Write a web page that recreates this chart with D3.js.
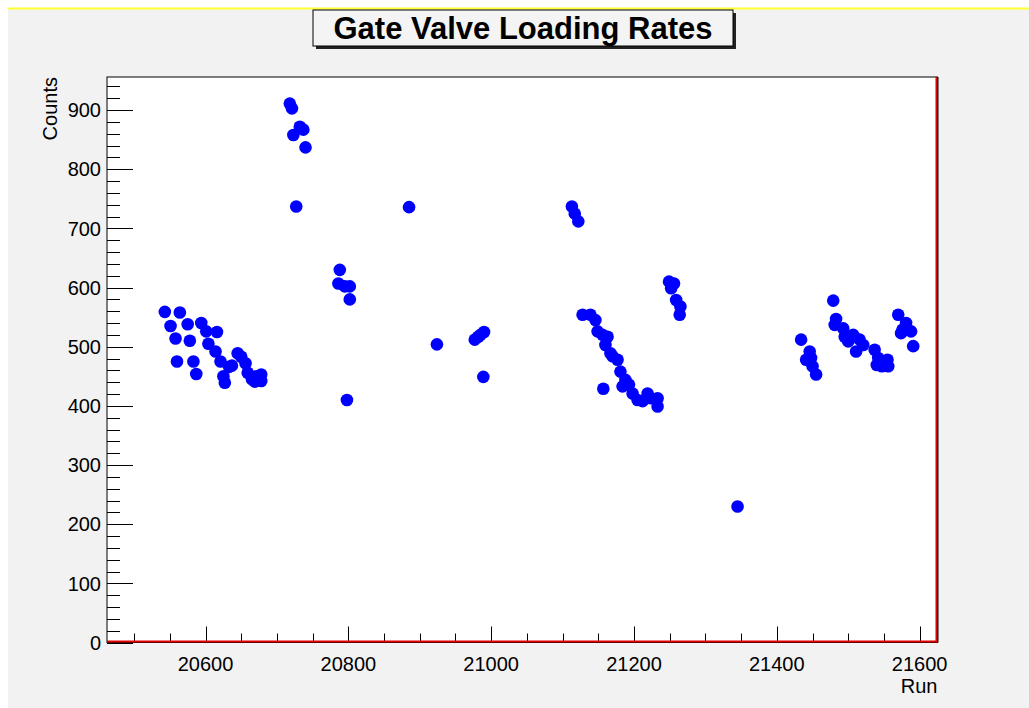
<!DOCTYPE html>
<html>
<head>
<meta charset="utf-8">
<script src="https://cdn.jsdelivr.net/npm/d3@7/dist/d3.min.js"></script>
<style>
  html, body { margin: 0; padding: 0; background: #ffffff; }
  svg { display: block; }
  text { font-family: "Liberation Sans", Arial, Helvetica, sans-serif; }
</style>
</head>
<body>
<svg id="chart" width="1029" height="708"></svg>
<script>
// Run numbers and the counts loaded at each run
const runs = [
  20543, 20564, 20551, 20575, 20594, 20601, 20616, 20558, 20578, 20604,
  20614, 20645, 20650, 20560, 20583, 20621, 20633, 20637, 20656, 20587,
  20625, 20627, 20659, 20671, 20678, 20669, 20678, 20665,
  20718, 20721, 20732, 20737, 20723, 20740, 20727, 20788, 20786, 20795,
  20802, 20802, 20798, 20885, 20924, 20977, 20982, 20985, 20990, 20989,
  21113, 21117, 21122, 21249, 21256, 21252, 21259, 21265, 21264, 21128,
  21139, 21146, 21149, 21156, 21163, 21160, 21167, 21170, 21177, 21181,
  21188, 21184, 21193, 21198, 21205, 21212, 21219, 21224, 21233, 21233,
  21157, 21345,
  21434, 21479, 21483, 21481, 21493, 21495, 21507, 21500, 21516, 21521,
  21511, 21537, 21542, 21540, 21555, 21556, 21547, 21446, 21441, 21448,
  21450, 21455, 21570, 21581, 21576, 21588, 21574, 21591
];
const counts = [
  559, 558, 535, 538, 540, 526, 525, 514, 510, 505,
  492, 489, 483, 475, 475, 475, 466, 468, 472, 454,
  450, 439, 456, 450, 453, 441, 442, 445,
  911, 903, 872, 867, 858, 837, 737, 630, 607, 602,
  602, 580, 410, 736, 504, 512, 517, 520, 525, 449,
  737, 725, 712, 610, 607, 599, 579, 568, 554, 554,
  554, 545, 526, 520, 517, 503, 489, 484, 478, 458,
  444, 433, 436, 421, 410, 408, 421, 413, 413, 399,
  429, 230,
  512, 578, 547, 537, 531, 517, 520, 509, 512, 503,
  492, 495, 481, 469, 478, 467, 467, 492, 478, 481,
  467, 453, 554, 540, 529, 526, 523, 501
];

const xTicks = [20600, 20800, 21000, 21200, 21400, 21600];
const yTicks = [0, 100, 200, 300, 400, 500, 600, 700, 800, 900];
const titleText = "Gate Valve Loading Rates";
const xTitle = "Run";
const yTitle = "Counts";

const svg = d3.select("#chart");
const W = 1029, H = 708;
const frame = { left: 107, top: 77, right: 937.5, bottom: 642.5 };

// Canvas: light grey pad with a yellow highlight along the top edge
svg.append("rect").attr("x", 8).attr("y", 9).attr("width", W - 8).attr("height", H - 9)
  .attr("fill", "#f2f2f2");
svg.append("line").attr("x1", 8).attr("x2", W).attr("y1", 8.5).attr("y2", 8.5)
  .attr("stroke", "#ffff33").attr("stroke-width", 2);

const x = d3.scaleLinear().domain([20462, 21625]).range([frame.left, frame.right]);
const y = d3.scaleLinear().domain([0, 956]).range([frame.bottom, frame.top]);

// Plot area
svg.append("rect")
  .attr("x", frame.left).attr("y", frame.top)
  .attr("width", frame.right - frame.left).attr("height", frame.bottom - frame.top)
  .attr("fill", "#ffffff").attr("stroke", "#000").attr("stroke-width", 1);

// Y axis: major ticks every 100, minor every 20, drawn inward
const yAxis = svg.append("g");
d3.range(0, 957, 20).forEach(v => {
  const major = v % 100 === 0;
  yAxis.append("line")
    .attr("x1", frame.left).attr("x2", frame.left + (major ? 26 : 13))
    .attr("y1", Math.round(y(v)) + 0.5).attr("y2", Math.round(y(v)) + 0.5)
    .attr("stroke", "#000").attr("stroke-width", 1);
});
yAxis.selectAll("text.ytick").data(yTicks).enter().append("text")
  .attr("class", "ytick")
  .attr("x", frame.left - 6).attr("y", d => y(d))
  .attr("dy", "0.36em").attr("text-anchor", "end")
  .attr("font-size", 20).attr("fill", "#000")
  .text(d => d);

// X axis: major ticks every 200, minor every 50, drawn inward
const xAxis = svg.append("g");
d3.range(20500, 21625, 50).forEach(v => {
  const major = v % 200 === 0;
  xAxis.append("line")
    .attr("x1", Math.round(x(v)) + 0.5).attr("x2", Math.round(x(v)) + 0.5)
    .attr("y1", frame.bottom).attr("y2", frame.bottom - (major ? 16 : 9))
    .attr("stroke", "#000").attr("stroke-width", 1);
});
xAxis.selectAll("text.xtick").data(xTicks).enter().append("text")
  .attr("class", "xtick")
  .attr("x", d => x(d)).attr("y", frame.bottom + 28)
  .attr("text-anchor", "middle")
  .attr("font-size", 20).attr("fill", "#000")
  .text(d => d);

// Red graph edges along the bottom and right side of the frame
svg.append("line")
  .attr("x1", frame.left).attr("x2", frame.right)
  .attr("y1", frame.bottom - 1).attr("y2", frame.bottom - 1)
  .attr("stroke", "#e00000").attr("stroke-width", 2);
svg.append("line")
  .attr("x1", frame.right - 1).attr("x2", frame.right - 1)
  .attr("y1", frame.top).attr("y2", frame.bottom)
  .attr("stroke", "#e00000").attr("stroke-width", 2);
svg.append("line")
  .attr("x1", frame.right + 0.5).attr("x2", frame.right + 0.5)
  .attr("y1", frame.top).attr("y2", frame.bottom)
  .attr("stroke", "#000").attr("stroke-width", 1);

// Axis titles
svg.append("text")
  .attr("x", frame.right).attr("y", 693)
  .attr("text-anchor", "end").attr("font-size", 20).attr("fill", "#000")
  .text(xTitle);
svg.append("text")
  .attr("transform", `translate(57, ${frame.top}) rotate(-90)`)
  .attr("text-anchor", "end").attr("font-size", 20).attr("fill", "#000")
  .text(yTitle);

// Data points
svg.append("g").selectAll("circle").data(runs).enter().append("circle")
  .attr("cx", (d, i) => x(d))
  .attr("cy", (d, i) => y(counts[i]))
  .attr("r", 6.3)
  .attr("fill", "#0000ff");

// Title box with drop shadow
const tb = { x: 313, y: 10, w: 420, h: 36 };
svg.append("rect").attr("x", tb.x + 3).attr("y", tb.y + 3).attr("width", tb.w).attr("height", tb.h)
  .attr("fill", "#222");
svg.append("rect").attr("x", tb.x).attr("y", tb.y).attr("width", tb.w).attr("height", tb.h)
  .attr("fill", "#f4f4f4").attr("stroke", "#000").attr("stroke-width", 1);
svg.append("text")
  .attr("x", tb.x + tb.w / 2).attr("y", tb.y + 29)
  .attr("text-anchor", "middle").attr("font-size", 31).attr("font-weight", "bold")
  .attr("fill", "#000")
  .text(titleText);
</script>
</body>
</html>
